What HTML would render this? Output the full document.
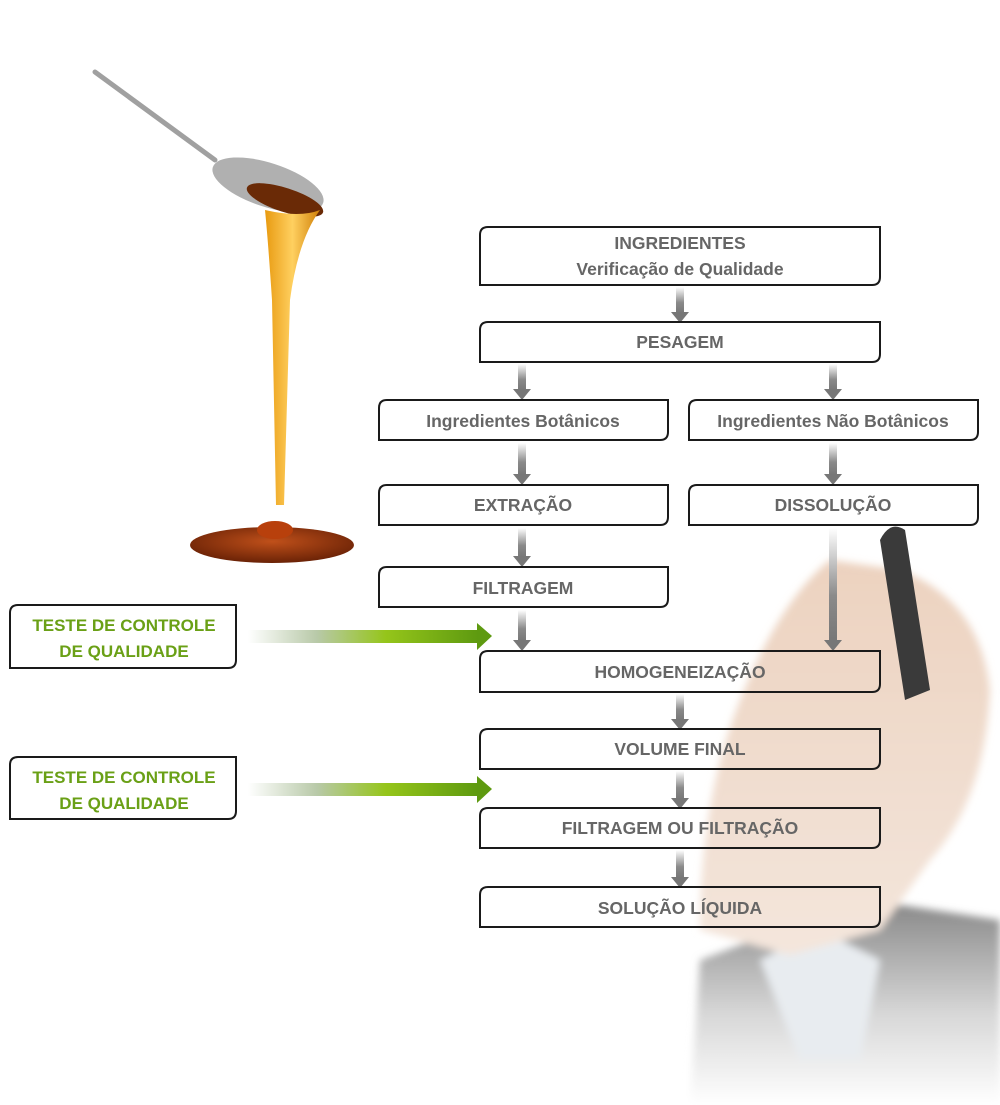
<!DOCTYPE html>
<html><head><meta charset="utf-8"><style>
html,body{margin:0;padding:0;background:#fff;}
svg{display:block}
text{font-family:"Liberation Sans",sans-serif;font-weight:bold;}
</style></head><body>
<svg width="1000" height="1105" viewBox="0 0 1000 1105" xmlns="http://www.w3.org/2000/svg">
<defs>
<linearGradient id="ga" x1="0" y1="0" x2="0" y2="1">
<stop offset="0" stop-color="#fff"/><stop offset="0.6" stop-color="#8a8a8a"/><stop offset="1" stop-color="#777"/></linearGradient>
<linearGradient id="gg" x1="0" y1="0" x2="1" y2="0">
<stop offset="0" stop-color="#fff"/><stop offset="0.3" stop-color="#b8c9a8"/><stop offset="0.6" stop-color="#95c51a"/><stop offset="1" stop-color="#5e9a10"/></linearGradient>
<linearGradient id="suit" x1="0" y1="0" x2="0" y2="1">
<stop offset="0" stop-color="#8a8a8a"/><stop offset="0.55" stop-color="#d8d8d8"/><stop offset="1" stop-color="#fff"/></linearGradient>
<linearGradient id="skin" x1="0" y1="0" x2="0" y2="1">
<stop offset="0" stop-color="#ecd2bf"/><stop offset="1" stop-color="#f4e6dc"/></linearGradient>
<linearGradient id="honey" x1="0" y1="0" x2="1" y2="0">
<stop offset="0" stop-color="#e89a10"/><stop offset="0.5" stop-color="#ffd060"/><stop offset="1" stop-color="#d08008"/></linearGradient>
<radialGradient id="pud" cx="0.5" cy="0.4" r="0.6">
<stop offset="0" stop-color="#c0501a"/><stop offset="1" stop-color="#6a2206"/></radialGradient>
<filter id="bl"><feGaussianBlur stdDeviation="4"/></filter>
</defs>

<!-- spoon & honey -->
<line x1="95" y1="72" x2="215" y2="160" stroke="#a0a0a0" stroke-width="5" stroke-linecap="round"/>
<ellipse cx="268" cy="185" rx="58" ry="22" transform="rotate(18 268 185)" fill="#b0b0b0"/>
<ellipse cx="285" cy="200" rx="40" ry="12" transform="rotate(18 285 200)" fill="#6a2a06"/>
<path d="M265 210 Q300 218 320 210 Q298 240 290 300 L284 505 L276 505 L272 300 Q268 240 265 210Z" fill="url(#honey)"/>
<ellipse cx="272" cy="545" rx="82" ry="18" fill="url(#pud)"/>
<ellipse cx="275" cy="530" rx="18" ry="9" fill="#b8400c"/>

<!-- hand -->
<g filter="url(#bl)">
<path d="M690 1105 L700 960 L780 930 L900 905 L1000 920 L1000 1105Z" fill="url(#suit)"/>
<path d="M760 960 L820 930 L880 960 L860 1060 L800 1060Z" fill="#e8ecf0"/>
<path d="M700 930 Q700 800 740 700 Q780 600 830 560 L900 570 Q980 600 990 690 Q985 800 930 860 L880 930 L790 955Z" fill="url(#skin)"/>
</g>
<path d="M880 540 Q890 520 905 530 L930 690 L905 700Z" fill="#3a3a3a"/>

<!-- gray arrows -->
<g fill="url(#ga)">
<rect x="676" y="287" width="8" height="26"/><rect x="518" y="364" width="8" height="26"/><rect x="829" y="364" width="8" height="26"/>
<rect x="518" y="443" width="8" height="32"/><rect x="829" y="443" width="8" height="32"/>
<rect x="518" y="528" width="8" height="29"/><rect x="518" y="610" width="8" height="31"/>
<rect x="829" y="528" width="8" height="113"/>
<rect x="676" y="694" width="8" height="26"/><rect x="676" y="771" width="8" height="28"/><rect x="676" y="850" width="8" height="28"/>
</g>
<g fill="#777">
<path d="M671 312 L689 312 L680 323Z"/><path d="M513 389 L531 389 L522 400Z"/><path d="M824 389 L842 389 L833 400Z"/>
<path d="M513 474 L531 474 L522 485Z"/><path d="M824 474 L842 474 L833 485Z"/><path d="M513 556 L531 556 L522 567Z"/>
<path d="M513 640 L531 640 L522 651Z"/><path d="M824 640 L842 640 L833 651Z"/>
<path d="M671 719 L689 719 L680 730Z"/><path d="M671 798 L689 798 L680 809Z"/><path d="M671 877 L689 877 L680 888Z"/>
</g>

<!-- green arrows -->
<rect x="248" y="630" width="230" height="13" fill="url(#gg)"/><path d="M477 623 L492 636 L477 650Z" fill="#5e9a10"/>
<rect x="248" y="783" width="230" height="13" fill="url(#gg)"/><path d="M477 776 L492 789 L477 803Z" fill="#5e9a10"/>

<!-- boxes -->
<g fill="none" stroke="#1a1a1a" stroke-width="2">
<path d="M488 227 H880 V277 Q880 285 872 285 H480 V235 Q480 227 488 227Z"/>
<path d="M488 322 H880 V354 Q880 362 872 362 H480 V330 Q480 322 488 322Z"/>
<path d="M387 400 H668 V432 Q668 440 660 440 H379 V408 Q379 400 387 400Z"/>
<path d="M697 400 H978 V432 Q978 440 970 440 H689 V408 Q689 400 697 400Z"/>
<path d="M387 485 H668 V517 Q668 525 660 525 H379 V493 Q379 485 387 485Z"/>
<path d="M697 485 H978 V517 Q978 525 970 525 H689 V493 Q689 485 697 485Z"/>
<path d="M387 567 H668 V599 Q668 607 660 607 H379 V575 Q379 567 387 567Z"/>
<path d="M488 651 H880 V684 Q880 692 872 692 H480 V659 Q480 651 488 651Z"/>
<path d="M488 729 H880 V761 Q880 769 872 769 H480 V737 Q480 729 488 729Z"/>
<path d="M488 808 H880 V840 Q880 848 872 848 H480 V816 Q480 808 488 808Z"/>
<path d="M488 887 H880 V919 Q880 927 872 927 H480 V895 Q480 887 488 887Z"/>
<path d="M18 605 H236 V660 Q236 668 228 668 H10 V613 Q10 605 18 605Z"/>
<path d="M18 757 H236 V811 Q236 819 228 819 H10 V765 Q10 757 18 757Z"/>
</g>

<g fill="#666" font-size="17.5" text-anchor="middle">
<text x="680" y="249">INGREDIENTES</text>
<text x="680" y="275">Verificação de Qualidade</text>
<text x="680" y="348">PESAGEM</text>
<text x="523" y="427">Ingredientes Botânicos</text>
<text x="833" y="427">Ingredientes Não Botânicos</text>
<text x="523" y="511">EXTRAÇÃO</text>
<text x="833" y="511">DISSOLUÇÃO</text>
<text x="523" y="594">FILTRAGEM</text>
<text x="680" y="678">HOMOGENEIZAÇÃO</text>
<text x="680" y="755">VOLUME FINAL</text>
<text x="680" y="834">FILTRAGEM OU FILTRAÇÃO</text>
<text x="680" y="914">SOLUÇÃO LÍQUIDA</text>
</g>
<g fill="#6aa016" font-size="17" text-anchor="middle">
<text x="124" y="631">TESTE DE CONTROLE</text>
<text x="124" y="657">DE QUALIDADE</text>
<text x="124" y="783">TESTE DE CONTROLE</text>
<text x="124" y="809">DE QUALIDADE</text>
</g>
</svg>
</body></html>
